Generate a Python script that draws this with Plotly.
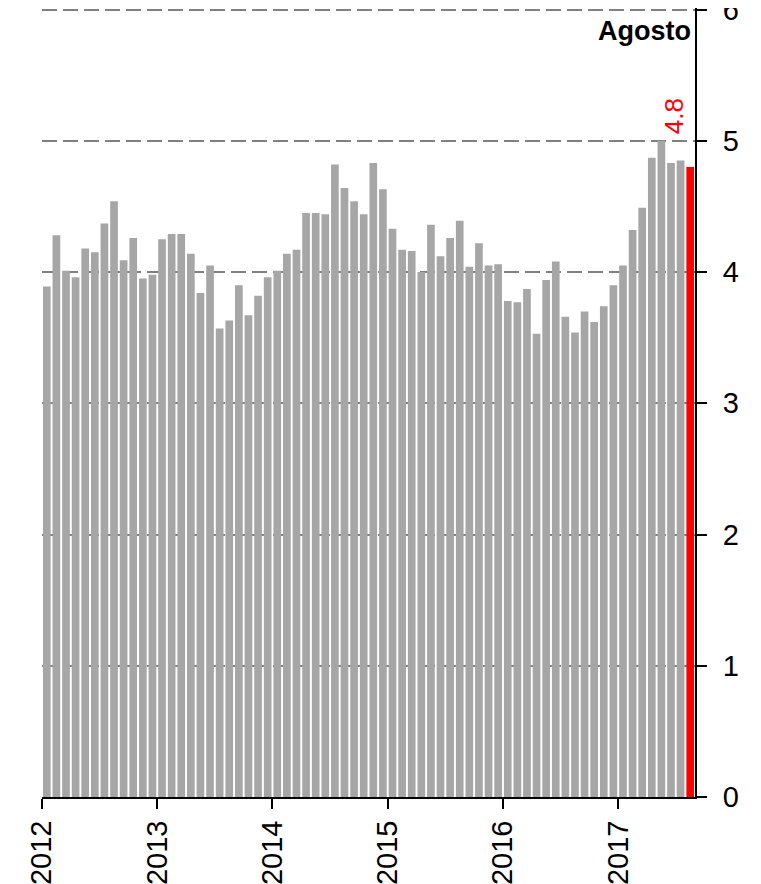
import plotly.graph_objects as go

years = ["2012", "2013", "2014", "2015", "2016", "2017"]
values = [
    3.89, 4.28, 4.01, 3.96, 4.18, 4.15, 4.37, 4.54, 4.09, 4.26, 3.95, 3.98,  # 2012
    4.25, 4.29, 4.29, 4.14, 3.84, 4.05, 3.57, 3.63, 3.90, 3.67, 3.82, 3.96,  # 2013
    4.01, 4.14, 4.17, 4.45, 4.45, 4.44, 4.82, 4.64, 4.54, 4.44, 4.83, 4.63,  # 2014
    4.33, 4.17, 4.16, 4.00, 4.36, 4.12, 4.26, 4.39, 4.04, 4.22, 4.05, 4.06,  # 2015
    3.78, 3.77, 3.87, 3.53, 3.94, 4.08, 3.66, 3.54, 3.70, 3.62, 3.74, 3.90,  # 2016
    4.05, 4.32, 4.49, 4.87, 5.00, 4.83, 4.85, 4.80,                          # 2017
]
last_label = "4.8"
month_label = "Agosto"
y_ticks = [0, 1, 2, 3, 4, 5, 6]

n = len(values)
x = list(range(n))
colors = ["#A6A6A6"] * (n - 1) + ["#FF0000"]

FONT = "Liberation Sans"

fig = go.Figure()
fig.add_trace(go.Bar(
    x=x, y=values,
    marker=dict(color=colors, line=dict(width=0)),
    hoverinfo="skip",
))

fig.add_annotation(
    x=x[-1], y=values[-1], xref="x", yref="y",
    text=last_label, textangle=-90, showarrow=False,
    font=dict(family=FONT, size=26, color="#FF0000"),
    xanchor="center", yanchor="bottom", xshift=-16, yshift=31,
)
fig.add_annotation(
    x=1, y=1, xref="paper", yref="paper",
    text="<b>" + month_label + "</b>", showarrow=False,
    font=dict(family=FONT, size=27, color="#000000"),
    xanchor="right", yanchor="top", xshift=-2, yshift=-6,
)

fig.update_layout(
    width=753, height=876,
    margin=dict(l=33.5, r=66, t=0, b=87, autoexpand=False),
    paper_bgcolor="white", plot_bgcolor="white",
    bargap=0.2, showlegend=False,
    font=dict(family=FONT, size=29, color="#000000"),
)
fig.update_xaxes(
    range=[-0.5, n - 0.5],
    tickmode="array",
    tickvals=[12 * i - 0.5 for i in range(len(years))],
    ticktext=years,
    tickangle=-90,
    ticks="outside", ticklen=10, tickwidth=2, tickcolor="#000000",
    showline=True, linecolor="#000000", linewidth=2,
    showgrid=False, zeroline=False,
)
fig.update_yaxes(
    range=[0, 6.012], side="right",
    tickmode="array", tickvals=y_ticks, ticktext=[str(v) for v in y_ticks],
    ticks="outside", ticklen=10, tickwidth=2, tickcolor="#000000",
    ticklabelstandoff=10, ticklabeloverflow="allow",
    showline=True, linecolor="#000000", linewidth=2,
    showgrid=True, gridcolor="#808080", gridwidth=2, griddash="15px,6px",
    zeroline=False,
)

fig.write_html("out.html")
